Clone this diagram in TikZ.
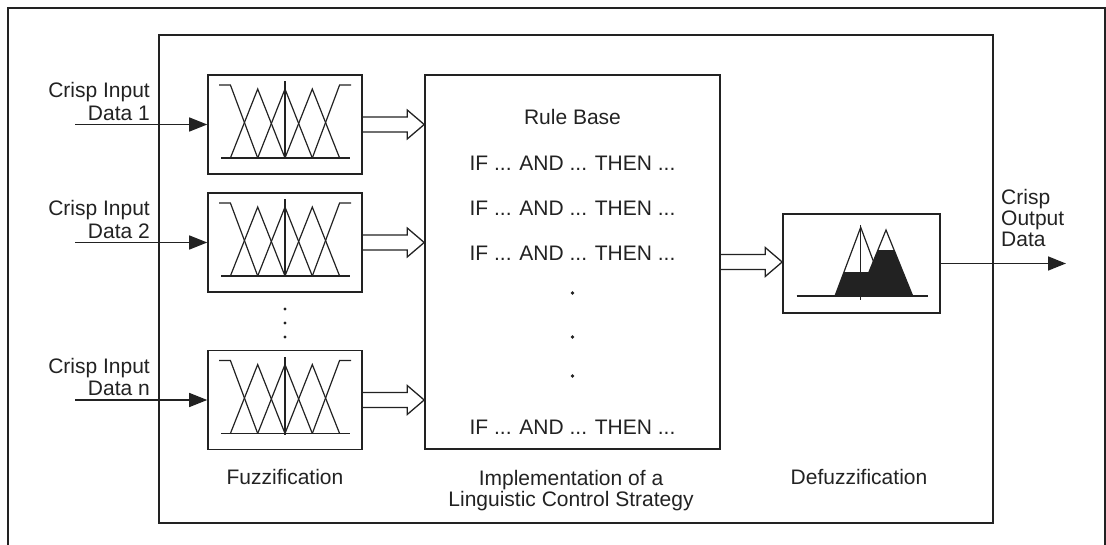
\documentclass[tikz,border=0pt]{standalone}
\usepackage{fontspec}
\setmainfont{Liberation Sans}
\usetikzlibrary{arrows.meta,calc}
\definecolor{ink}{HTML}{222222}
\newcommand\fuzzmf[1]{%
  \begin{scope}[shift={(#1.center)}]
    \draw[mf] (-64,33.5) -- (65,33.5);
    \draw[mf] (-66,-39.5) -- (-54.6,-39.5) -- (-27.3,33.5);
    \draw[mf] (-54.6,33.5) -- (-27.3,-35.5) -- (0,33.5);
    \draw[mf] (-27.3,33.5) -- (0,-35.5) -- (27.3,33.5);
    \draw[mf] (0,33.5) -- (27.3,-35.5) -- (54.6,33.5);
    \draw[mf] (27.3,33.5) -- (54.6,-39.5) -- (66,-39.5);
    \draw[mf] (0,-43) -- (0,35);
  \end{scope}}
\newcommand\hollowarrow[2]{%
  \coordinate (tip#1) at (#2.west|-#1.east);
  \draw[hollow] ($(#1.east)+(0,-7.5)$) -- ($(tip#1)+(-17,-7.5)$) -- ++(0,-7)
    -- (tip#1) -- ($(tip#1)+(-17,14.5)$) -- ++(0,-7) -- ($(#1.east)+(0,7.5)$);}
\begin{document}
\begin{tikzpicture}[x=1pt,y=-1pt,
  fuzzbox/.style={draw=ink,line width=1.6pt,minimum width=154pt,minimum height=99pt,inner sep=0pt},
  lbl/.style={font=\fontsize{21}{22.5}\selectfont,text=ink,inner sep=0pt},
  inarrow/.style={draw=ink,line width=1.5pt,-{Triangle[length=18pt,width=14pt]}},
  hollow/.style={draw=ink,line width=1.3pt,line join=miter},
  mf/.style={draw=ink,line width=1.2pt}]
\useasboundingbox (0,0) rectangle (1106,545);
% frames
\draw[ink,line width=2pt] (8,546) -- (8,8) -- (1105,8) -- (1105,546);
\node[draw=ink,line width=1.6pt,minimum width=834pt,minimum height=488pt,inner sep=0pt] (main) at (576,279) {};
% fuzzification boxes
\node[fuzzbox] (f1) at (285,124.5) {};
\node[fuzzbox] (f2) at (285,242.5) {};
\node[fuzzbox] (f3) at (285,400) {};
\fuzzmf{f1}\fuzzmf{f2}\fuzzmf{f3}
\fill[ink] (285,309) circle (1.7) (285,323) circle (1.7) (285,337) circle (1.7);
% rule base
\node[draw=ink,line width=1.6pt,minimum width=295pt,minimum height=374pt,inner sep=0pt] (r) at (572.5,262) {};
\node[lbl] (rb) at (572.5,117) {Rule Base};
\node[lbl] (if1) at (572.5,163) {IF ... AND ... THEN ...};
\node[lbl] (if2) at (572.5,208) {IF ... AND ... THEN ...};
\node[lbl] (if3) at (572.5,253) {IF ... AND ... THEN ...};
\node[lbl] (if4) at (572.5,427) {IF ... AND ... THEN ...};
\fill[ink] (572.5,293) circle (1.8) (572.5,337) circle (1.8) (572.5,376) circle (1.8);
% defuzzification box
\node[draw=ink,line width=1.6pt,minimum width=157pt,minimum height=99pt,inner sep=0pt] (d) at (861.5,263.5) {};
\begin{scope}[shift={(d.center)}]
  \begin{scope}
    \clip (-100,9.2) rectangle (100,32.5);
    \fill[ink] (-26.5,32.5) -- (-0.8,-36.2) -- (24.8,32.5) -- cycle;
  \end{scope}
  \begin{scope}
    \clip (-100,-12.8) rectangle (100,32.5);
    \fill[ink] (-2.2,32.5) -- (24.5,-33.5) -- (51.2,32.5) -- cycle;
  \end{scope}
  \draw[mf] (-26.5,32.5) -- (-0.8,-36.2) -- (24.8,32.5);
  \draw[mf] (-2.2,32.5) -- (24.5,-33.5) -- (51.2,32.5);
  \draw[mf] (-64.8,32.5) -- (66.8,32.5);
  \draw[mf] (-0.8,-38.5) -- (-0.8,36.5);
\end{scope}
% input arrows and labels
\coordinate (in1) at (75,124.5);
\coordinate (in2) at (75,242.5);
\coordinate (in3) at (75,400);
\draw[inarrow] (in1) -- (f1.west);
\draw[inarrow] (in2) -- (f2.west);
\draw[inarrow] (in3) -- (f3.west);
\node[lbl,align=right,anchor=south east] (l1) at (150,120.5) {Crisp Input\\Data 1};
\node[lbl,align=right,anchor=south east] (l2) at (150,238.5) {Crisp Input\\Data 2};
\node[lbl,align=right,anchor=south east] (l3) at (150,396) {Crisp Input\\Data n};
% hollow arrows
\hollowarrow{f1}{r}
\hollowarrow{f2}{r}
\hollowarrow{f3}{r}
\hollowarrow{r}{d}
% output
\coordinate (out) at (1066,263.5);
\draw[inarrow] (d.east) -- (out);
\node[lbl,align=left,anchor=south west,font=\fontsize{21}{21}\selectfont] (lo) at (1001,247) {Crisp\\Output\\Data};
% bottom labels
\node[lbl] (fz) at (285,477) {Fuzzification};
\node[lbl,align=center,anchor=north,font=\fontsize{21}{21}\selectfont] (impl) at (571,470) {Implementation of a\\Linguistic Control Strategy};
\node[lbl] (dfz) at (859,477) {Defuzzification};
\end{tikzpicture}
\end{document}
